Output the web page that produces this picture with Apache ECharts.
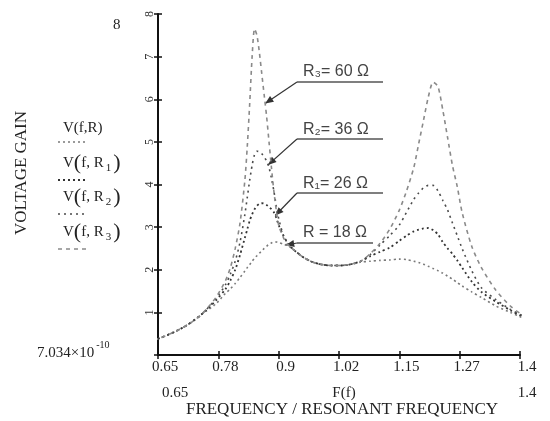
<!DOCTYPE html>
<html><head><meta charset="utf-8">
<script src="https://cdn.jsdelivr.net/npm/echarts/dist/echarts.min.js"></script>
<style>html,body{margin:0;padding:0;background:#fff}#c{width:550px;height:421px}</style>
</head><body><div id="c"></div>
<script>
// ---- data ----
const freq   = [0.61,0.63,0.65,0.68,0.71,0.74,0.77,0.79,0.80,0.81,0.82,0.83,0.835,0.84,0.845,0.85,0.855,0.86,0.865,0.87,0.875,0.88,0.885,0.89,0.895,0.90,0.91,0.92,0.93,0.95,0.97,0.99,1.01,1.03,1.05,1.07,1.09,1.11,1.13,1.15,1.165,1.18,1.19,1.20,1.21,1.22,1.23,1.24,1.25,1.26,1.27,1.28,1.30,1.32,1.35,1.38,1.40,1.425,1.448];
const gainR  = [0.25,0.30,0.38,0.52,0.70,0.95,1.20,1.45,1.55,1.68,1.82,1.97,2.05,2.12,2.20,2.27,2.33,2.39,2.44,2.50,2.55,2.60,2.63,2.65,2.65,2.64,2.60,2.56,2.48,2.30,2.18,2.12,2.10,2.10,2.13,2.18,2.20,2.22,2.23,2.25,2.24,2.20,2.17,2.13,2.08,2.03,1.98,1.92,1.85,1.78,1.70,1.62,1.48,1.35,1.15,1.00,0.90,0.80,0.73];
const gainR1 = [0.25,0.30,0.38,0.52,0.70,0.95,1.28,1.55,1.75,2.00,2.35,2.75,2.95,3.15,3.30,3.42,3.50,3.55,3.56,3.55,3.52,3.47,3.42,3.35,3.22,3.05,2.80,2.60,2.48,2.30,2.18,2.12,2.10,2.10,2.13,2.20,2.32,2.42,2.52,2.68,2.80,2.90,2.94,2.97,2.98,2.93,2.83,2.65,2.50,2.37,2.22,2.05,1.72,1.48,1.25,1.05,0.93,0.81,0.73];
const gainR2 = [0.25,0.30,0.38,0.52,0.70,0.95,1.32,1.65,1.90,2.20,2.65,3.30,3.70,4.10,4.45,4.70,4.78,4.77,4.72,4.65,4.55,4.40,4.15,3.85,3.50,3.20,2.80,2.60,2.48,2.30,2.18,2.12,2.10,2.10,2.13,2.20,2.36,2.58,2.80,3.05,3.35,3.65,3.80,3.92,3.98,3.98,3.85,3.63,3.40,3.10,2.80,2.50,1.98,1.58,1.30,1.07,0.95,0.82,0.73];
const gainR3 = [0.25,0.30,0.38,0.52,0.70,0.95,1.35,1.75,2.05,2.50,3.10,4.10,4.90,5.90,7.00,7.65,7.50,7.10,6.60,6.10,5.60,5.00,4.40,3.85,3.40,3.05,2.75,2.58,2.48,2.30,2.18,2.12,2.10,2.10,2.13,2.20,2.38,2.62,2.95,3.40,3.85,4.40,4.95,5.50,6.05,6.40,6.30,5.75,5.10,4.45,3.95,3.35,2.55,2.05,1.52,1.15,0.98,0.83,0.73];
const xTickLabels = ['0.65','0.78','0.9','1.02','1.15','1.27','1.4'];
const yTickLabels = ['','1','2','3','4','5','6','7','8'];
const seriesNames = ['V(f,R)','V(f,R1)','V(f,R2)','V(f,R3)'];
const annotationTexts = ['R = 18 \u03A9','R\u2081= 26 \u03A9','R\u2082= 36 \u03A9','R\u2083= 60 \u03A9'];
const annotationFreqs = [0.915, 0.893, 0.878, 0.872];
const xMin = 0.65, xMax = 1.4, yMin = 0, yMax = 8;
const yMinMantissa = '7.034\u00D710', yMinExponent = '-10';
const yMaxLabel = '8';
const xLowLabel = '0.65', xHighLabel = '1.4', xVarLabel = 'F(f)';
const xTitle = 'FREQUENCY / RESONANT FREQUENCY';
const yTitle = 'VOLTAGE GAIN';
const gains = [gainR, gainR1, gainR2, gainR3];

// ---- styles ----
const SERIF = '"Liberation Serif","Times New Roman",serif';
const SANS = '"Liberation Sans",Arial,sans-serif';
const lineStyles = [
  {color:'#7a7a7a', width:1.6, type:[2,3]},
  {color:'#333', width:1.8, type:[2,3]},
  {color:'#4a4a4a', width:1.6, type:[2,4]},
  {color:'#8a8a8a', width:1.6, type:[4,4]}
];

const chart = echarts.init(document.getElementById('c'), null, {renderer:'canvas'});
const tickCount = xTickLabels.length - 1;
const option = {
  animation:false,
  backgroundColor:'#fff',
  grid:{left:158, right:30, top:14, bottom:66},
  xAxis:[
    {type:'value', min:xMin, max:xMax, show:false, position:'bottom'},
    {type:'value', min:0, max:tickCount, interval:1, position:'bottom',
     axisLine:{show:true, lineStyle:{color:'#111', width:2}},
     axisTick:{show:true, length:4, lineStyle:{color:'#111', width:1.5}},
     axisLabel:{formatter:v=>xTickLabels[Math.round(v)], fontFamily:SERIF, fontSize:15, color:'#222', margin:5, padding:[0,0,0,14]},
     splitLine:{show:false}},
    {type:'value', min:0, max:tickCount, interval:1, position:'bottom',
     axisLine:{show:false}, axisTick:{show:true, inside:true, length:4, lineStyle:{color:'#111', width:1.5}},
     axisLabel:{show:false}, splitLine:{show:false}}
  ],
  yAxis:[
    {type:'value', min:yMin, max:yMax, interval:1, position:'left',
     axisLine:{show:true, lineStyle:{color:'#111', width:2}},
     axisTick:{show:true, length:4, lineStyle:{color:'#111', width:1.5}},
     axisLabel:{formatter:v=>yTickLabels[Math.round(v)], rotate:90, fontFamily:SERIF, fontSize:12, color:'#333', margin:2},
     splitLine:{show:false}},
    {type:'value', min:yMin, max:yMax, interval:1, position:'left',
     axisLine:{show:false}, axisTick:{show:true, inside:true, length:4, lineStyle:{color:'#111', width:1.5}},
     axisLabel:{show:false}, splitLine:{show:false}}
  ],
  series: gains.map((g,i)=>({
    type:'line', name:seriesNames[i], xAxisIndex:0, yAxisIndex:0,
    data: freq.map((f,k)=>[f, g[k]]),
    showSymbol:false, smooth:0.25, clip:false,
    lineStyle:lineStyles[i]
  }))
};
chart.setOption(option);

function interp(arr, f){
  for(let k=0;k<freq.length-1;k++){
    if(f>=freq[k] && f<=freq[k+1]){
      const t=(f-freq[k])/(freq[k+1]-freq[k]);
      return arr[k]+(arr[k+1]-arr[k])*t;
    }
  }
  return arr[arr.length-1];
}
function arrowEls(x0,y0,x1,y1){
  const ang=Math.atan2(y1-y0,x1-x0), L=9, a=0.4;
  return [
    {type:'line', shape:{x1:x0,y1:y0,x2:x1,y2:y1}, style:{stroke:'#333', lineWidth:1.2}},
    {type:'polygon', shape:{points:[[x1,y1],[x1-L*Math.cos(ang-a),y1-L*Math.sin(ang-a)],[x1-L*Math.cos(ang+a),y1-L*Math.sin(ang+a)]]}, style:{fill:'#333'}}
  ];
}
const P = (f,v)=>chart.convertToPixel({xAxisIndex:0,yAxisIndex:0},[f,v]);
const pOrigin = P(xMin,yMin), pTop = P(xMin,yMax), pRight = P(xMax,yMin);
const g = [];
// axis limit labels (Mathcad style)
g.push({type:'text', x:pOrigin[0]-45, y:pTop[1]+4, style:{text:yMaxLabel, font:'15px '+SERIF, fill:'#222'}});
g.push({type:'text', x:pOrigin[0]-121, y:pOrigin[1]-6, style:{
  text:'{m|'+yMinMantissa+'}{e|'+yMinExponent+'}', textVerticalAlign:'middle',
  rich:{m:{font:'15px '+SERIF, fill:'#222', padding:[8,0,0,0]}, e:{font:'10px '+SERIF, fill:'#222', padding:[0,0,8,2]}}}});
g.push({type:'text', x:pOrigin[0]+17, y:pOrigin[1]+38, style:{text:xLowLabel, font:'15px '+SERIF, fill:'#222', textAlign:'center', textVerticalAlign:'middle'}});
g.push({type:'text', x:pRight[0]+7, y:pOrigin[1]+38, style:{text:xHighLabel, font:'15px '+SERIF, fill:'#222', textAlign:'center', textVerticalAlign:'middle'}});
g.push({type:'text', x:(pOrigin[0]+pRight[0])/2+5, y:pOrigin[1]+38, style:{text:xVarLabel, font:'15px '+SERIF, fill:'#222', textAlign:'center', textVerticalAlign:'middle'}});
g.push({type:'text', x:(pOrigin[0]+pRight[0])/2+3, y:pOrigin[1]+55, style:{text:xTitle, font:'17px '+SERIF, fill:'#222', textAlign:'center', textVerticalAlign:'middle'}});
g.push({type:'text', x:22, y:173, rotation:Math.PI/2, style:{text:yTitle, font:'17px '+SERIF, fill:'#222', textAlign:'center', textVerticalAlign:'middle'}});
// legend block (expression + line sample below)
const legY = [128, 163, 197, 232];
const legSub = ['', '1', '2', '3'];
legY.forEach((y,i)=>{
  const rich = i===0
    ? '{t|V(f,R)}'
    : '{t|V}{p|(}{t|f, R}{s|'+legSub[i]+'}{p|)}';
  g.push({type:'text', x:63, y:y, style:{text:rich, textVerticalAlign:'middle', rich:{
    t:{font:'15px '+SERIF, fill:'#222'},
    p:{font:'22px '+SERIF, fill:'#222'},
    s:{font:'11px '+SERIF, fill:'#222', padding:[10,2,0,2]}
  }}});
  const ls = lineStyles[i];
  g.push({type:'line', shape:{x1:58,y1:y+(i===0?14:17),x2:86,y2:y+(i===0?14:17)}, style:{stroke:ls.color, lineWidth:ls.width, lineDash:ls.type}});
});
// annotations with arrows
const elbowY = [243, 193, 139, 82];
const textY  = [233, 184, 130, 72];
const lineEnd = [373, 383, 383, 383];
annotationFreqs.forEach((f,i)=>{
  const tip = P(f, interp(gains[i], f));
  const ex = 297, ey = elbowY[i];
  g.push({type:'line', shape:{x1:ex,y1:ey,x2:lineEnd[i],y2:ey}, style:{stroke:'#555', lineWidth:1.3}});
  arrowEls(ex,ey,tip[0],tip[1]).forEach(e=>g.push(e));
  g.push({type:'text', x:303, y:textY[i], style:{text:annotationTexts[i], font:'16px '+SANS, fill:'#444', textVerticalAlign:'middle'}});
});
chart.setOption({graphic:{elements:g}});
</script></body></html>
